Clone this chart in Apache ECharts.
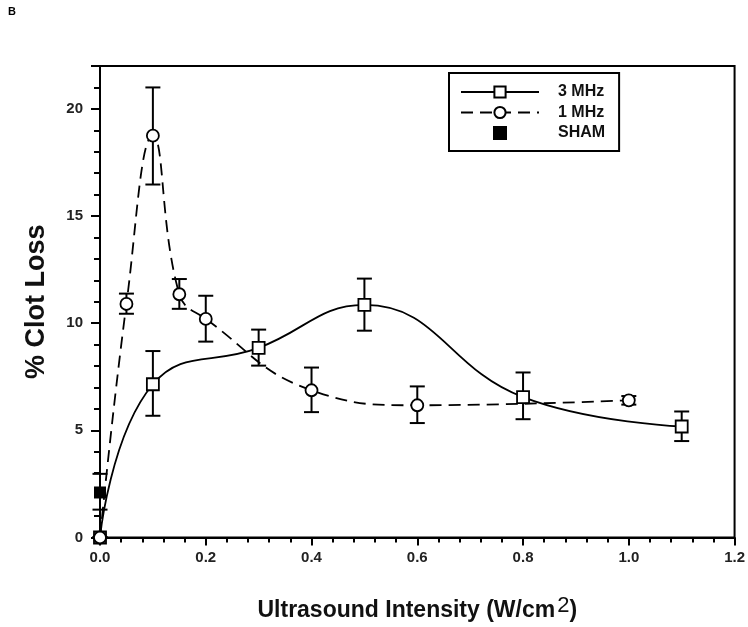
<!DOCTYPE html>
<html>
<head>
<meta charset="utf-8">
<script src="https://cdn.jsdelivr.net/npm/echarts@6/dist/echarts.min.js"></script>
<style>
html,body{margin:0;padding:0;background:#fff;}
#chart{width:748px;height:627px;}
</style>
</head>
<body>
<div id="chart"></div>
<script>
// 3 MHz
const x3 = [0, 0.1, 0.3, 0.5, 0.8, 1.1];
const y3 = [0, 7.15, 8.85, 10.85, 6.55, 5.18];
const hi3 = [0, 8.7, 9.7, 12.08, 7.7, 5.88];
const lo3 = [0, 5.68, 8.02, 9.65, 5.52, 4.5];
// 1 MHz
const x1 = [0, 0.05, 0.1, 0.15, 0.2, 0.4, 0.6, 1.0];
const y1 = [0, 10.9, 18.75, 11.35, 10.2, 6.87, 6.17, 6.4];
const hi1 = [0, 11.38, 21.0, 12.06, 11.28, 7.93, 7.05, 6.6];
const lo1 = [0, 10.44, 16.47, 10.67, 9.14, 5.85, 5.34, 6.2];
// SHAM
const xS = [0];
const yS = [2.1];
const hiS = [2.97];
const loS = [1.3];
// axis
const xTicks = [0, 0.2, 0.4, 0.6, 0.8, 1.0, 1.2];
const yTicks = [0, 5, 10, 15, 20];

const FONT = '"Liberation Sans", Arial, sans-serif';

function pts(xs, ys) { return xs.map((x, i) => [x, ys[i]]); }
function errs(xs, lo, hi) { return xs.map((x, i) => [x, lo[i], hi[i]]); }

function errRender(params, api) {
  const x = api.value(0);
  const a = api.coord([x, api.value(1)]);
  const b = api.coord([x, api.value(2)]);
  const w = 7.5;
  const st = { stroke: '#000', lineWidth: 2 };
  return {
    type: 'group',
    children: [
      { type: 'line', shape: { x1: a[0], y1: a[1], x2: b[0], y2: b[1] }, style: st },
      { type: 'line', shape: { x1: a[0] - w, y1: a[1], x2: a[0] + w, y2: a[1] }, style: st },
      { type: 'line', shape: { x1: b[0] - w, y1: b[1], x2: b[0] + w, y2: b[1] }, style: st }
    ]
  };
}

const chart = echarts.init(document.getElementById('chart'), null, { renderer: 'canvas' });
chart.setOption({
  backgroundColor: '#fff',
  animation: false,
  graphic: [{
    type: 'text', left: 8, top: 6,
    style: { text: 'B', font: 'bold 11px ' + FONT, fill: '#000' }
  }],
  grid: {
    left: 100, right: 13, top: 66, bottom: 87,
    show: true, borderColor: '#000', borderWidth: 2, backgroundColor: 'transparent'
  },
  legend: {
    orient: 'vertical',
    left: 449, top: 73,
    padding: [11, 14, 10, 11],
    itemWidth: 78, itemHeight: 14, itemGap: 4.5,
    borderColor: '#000', borderWidth: 2,
    backgroundColor: '#fff',
    textStyle: { fontFamily: FONT, fontSize: 16, fontWeight: 'bold', color: '#111', padding: [0, 0, 0, 14] },
    data: [
      { name: '3 MHz' },
      { name: '1 MHz' },
      { name: 'SHAM', icon: 'path://M0,0H10V10H0Z' }
    ]
  },
  xAxis: {
    type: 'value', min: 0, max: 1.2, interval: 0.2,
    name: '{a|Ultrasound Intensity (W/cm}{s|2}{a|)}',
    nameLocation: 'middle', nameGap: 57,
    nameTextStyle: {
      rich: {
        a: { fontFamily: FONT, fontSize: 23, fontWeight: 'bold', color: '#111' },
        s: { fontFamily: FONT, fontSize: 22, color: '#111', padding: [0, 0, 10, 2] }
      }
    },
    axisLine: { lineStyle: { color: '#000', width: 2 } },
    axisTick: { show: true, length: 8, lineStyle: { color: '#000', width: 2 } },
    minorTick: { show: true, splitNumber: 5, length: 5, lineStyle: { color: '#000', width: 2 } },
    splitLine: { show: false },
    axisLabel: {
      fontFamily: FONT, fontSize: 15, fontWeight: 'bold', color: '#222', margin: 13,
      formatter: v => v.toFixed(1)
    }
  },
  yAxis: {
    type: 'value', min: 0, max: 22, interval: 5,
    name: '% Clot Loss',
    nameLocation: 'middle', nameGap: 50,
    nameTextStyle: { fontFamily: FONT, fontSize: 27, fontWeight: 'bold', color: '#111' },
    axisLine: { lineStyle: { color: '#000', width: 2 } },
    axisTick: { show: true, length: 9, lineStyle: { color: '#000', width: 2 } },
    minorTick: { show: true, splitNumber: 5, length: 6, lineStyle: { color: '#000', width: 2 } },
    splitLine: { show: false },
    axisLabel: {
      fontFamily: FONT, fontSize: 15, fontWeight: 'bold', color: '#222', margin: 17,
      formatter: v => (yTicks.indexOf(v) >= 0 ? String(v) : '')
    }
  },
  series: [
    {
      type: 'custom', name: 'err3', renderItem: errRender, z: 1,
      data: errs(x3, lo3, hi3), encode: { x: 0, y: [1, 2] }, silent: true
    },
    {
      type: 'custom', name: 'err1', renderItem: errRender, z: 1,
      data: errs(x1, lo1, hi1), encode: { x: 0, y: [1, 2] }, silent: true
    },
    {
      type: 'custom', name: 'errS', renderItem: errRender, z: 1,
      data: errs(xS, loS, hiS), encode: { x: 0, y: [1, 2] }, silent: true
    },
    {
      type: 'line', name: '3 MHz', z: 3,
      data: pts(x3, y3), smooth: 0.45,
      symbol: 'rect', symbolSize: 12, showAllSymbol: true,
      lineStyle: { color: '#000', width: 1.8, type: 'solid' },
      itemStyle: { color: '#fff', borderColor: '#000', borderWidth: 1.8 }
    },
    {
      type: 'line', name: '1 MHz', z: 4,
      data: pts(x1, y1), smooth: 0.45,
      symbol: 'circle', symbolSize: 12, showAllSymbol: true,
      lineStyle: { color: '#000', width: 1.8, type: [12, 7] },
      itemStyle: { color: '#fff', borderColor: '#000', borderWidth: 1.8 }
    },
    {
      type: 'scatter', name: 'SHAM', z: 3,
      data: pts(xS, yS),
      symbol: 'rect', symbolSize: 12,
      itemStyle: { color: '#000', borderColor: '#000', borderWidth: 0, opacity: 1 }
    }
  ]
});
</script>
</body>
</html>
